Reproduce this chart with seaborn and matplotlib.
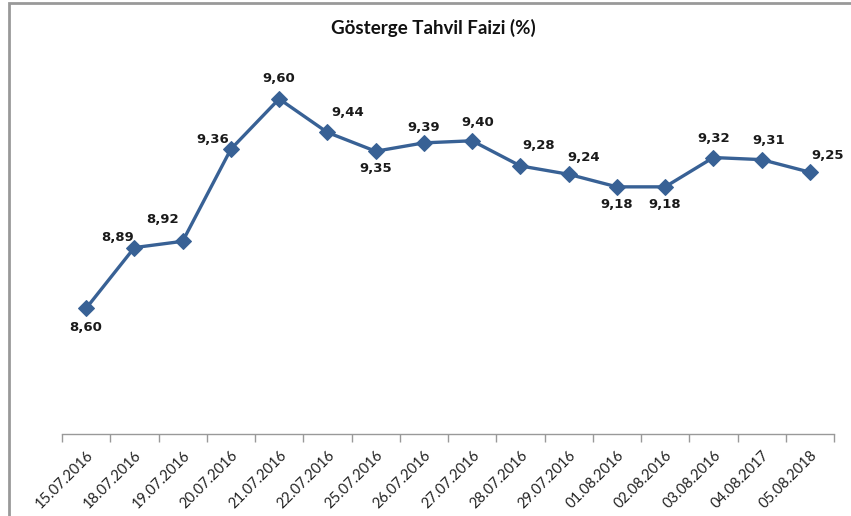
import numpy as np
import pandas as pd
import matplotlib
matplotlib.use("Agg")
import matplotlib.pyplot as plt
from matplotlib.patches import Rectangle
import seaborn as sns

# --- veri ---
dates = ["15.07.2016", "18.07.2016", "19.07.2016", "20.07.2016", "21.07.2016",
         "22.07.2016", "25.07.2016", "26.07.2016", "27.07.2016", "28.07.2016",
         "29.07.2016", "01.08.2016", "02.08.2016", "03.08.2016", "04.08.2017",
         "05.08.2018"]
rates = [8.60, 8.89, 8.92, 9.36, 9.60, 9.44, 9.35, 9.39, 9.40, 9.28,
         9.24, 9.18, 9.18, 9.32, 9.31, 9.25]

# etiket kaydirmalari (piksel)
label_offsets = [(0, -19), (-17, 10), (-20, 22), (-18, 10), (0, 20), (20, 20),
                 (0, -17), (0, 15), (6, 18), (18, 20), (15, 17), (0, -18),
                 (0, -18), (0, 19), (7, 19), (18, 17)]

LINE_COLOR = "#386195"

sns.set_theme(style="white")
plt.rcParams["font.family"] = ["Lato", "DejaVu Sans"]

df = pd.DataFrame({"tarih": dates, "faiz": rates})

fig = plt.figure(figsize=(8.51, 5.16), dpi=100)
ax = fig.add_axes([62 / 851, 1 - 434 / 516, 772 / 851, (434 - 57) / 516])

sns.lineplot(data=df, x="tarih", y="faiz", ax=ax, color=LINE_COLOR,
             linewidth=2.4, marker="D", markersize=8.5,
             markeredgecolor=LINE_COLOR, sort=False)

for i, (v, off) in enumerate(zip(rates, label_offsets)):
    ax.annotate(f"{v:.2f}".replace(".", ","), (i, v), xytext=off,
                textcoords="offset pixels", ha="center", va="center",
                fontsize=9.5, fontweight="bold", family="DejaVu Sans",
                color="#1a1a1a")

ax.set_xlim(-0.5, len(dates) - 0.5)
ax.set_ylim(8.0, 9.8)
ax.set_xlabel("")
ax.set_ylabel("")
ax.set_yticks([])
ax.set_xticks(range(len(dates)))
ax.set_xticklabels(dates, rotation=45, ha="right", rotation_mode="anchor",
                   fontsize=10.5, color="#222222")
ax.set_xticks(np.arange(-0.5, len(dates)), minor=True)
ax.tick_params(axis="x", which="major", length=0, pad=10)
ax.tick_params(axis="x", which="minor", length=6, width=1, color="#999999",
               bottom=True)
for side in ["top", "right", "left"]:
    ax.spines[side].set_visible(False)
ax.spines["bottom"].set_color("#999999")
ax.spines["bottom"].set_linewidth(1)

fig.text(433 / 851, 1 - 28 / 516, "Gösterge Tahvil Faizi (%)", ha="center",
         va="center", fontsize=13.5, fontweight="bold", color="#111111")

# dis cerceve
fig.patches.append(Rectangle((9 / 851, -0.05), 1.0, 1 - 3 / 516 + 0.05,
                             transform=fig.transFigure, fill=False,
                             edgecolor="#999999", linewidth=2))

fig.savefig("out.png", dpi=100)
